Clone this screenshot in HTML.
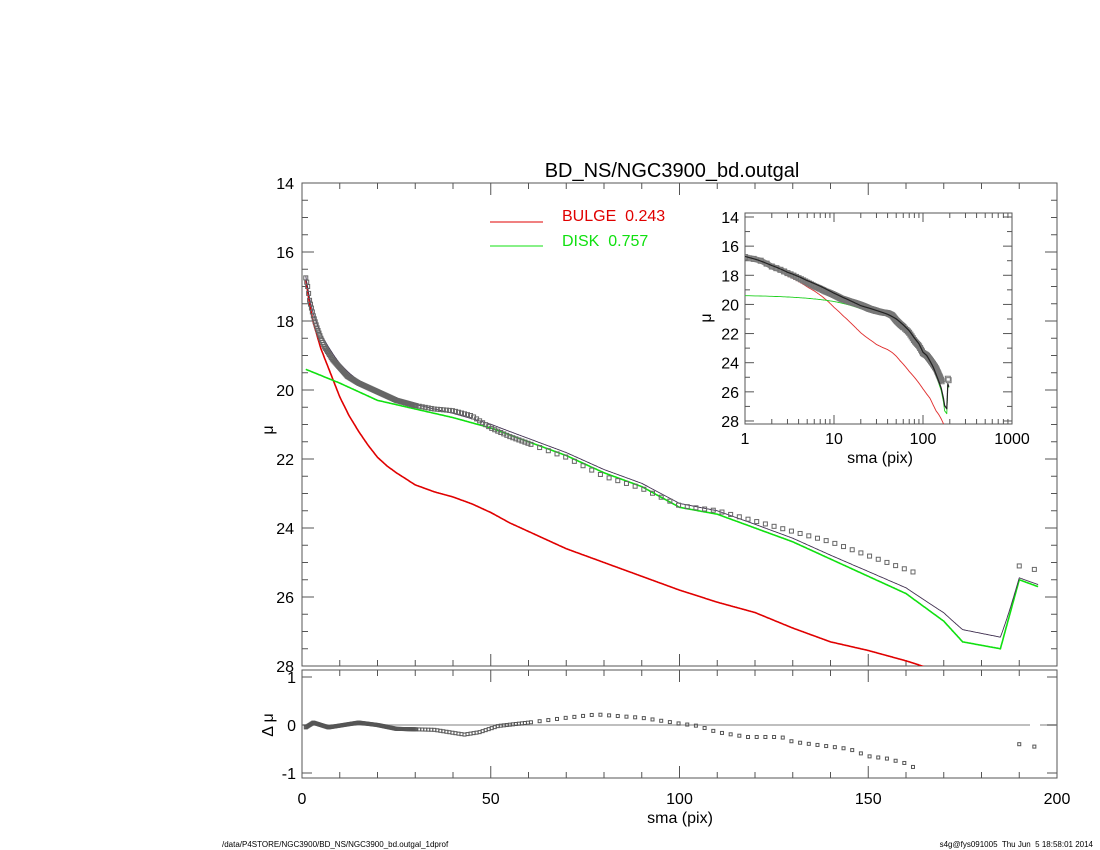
<!DOCTYPE html>
<html><head><meta charset="utf-8"><style>
body{margin:0;background:#fff}
svg{display:block;font-family:"Liberation Sans",sans-serif}
</style></head><body>
<svg id="s" width="1100" height="850" xmlns="http://www.w3.org/2000/svg"></svg>
<script>
const S=document.getElementById('s');let h='';
function interp(k,x){if(x<=k[0][0])return k[0][1];for(let i=1;i<k.length;i++){if(x<=k[i][0]){const a=k[i-1],b=k[i];return a[1]+(b[1]-a[1])*(x-a[0])/(b[0]-a[0]);}}return k[k.length-1][1];}
const D=[[1,16.75],[1.5,17.0],[2,17.4],[3,17.85],[4,18.2],[5,18.5],[6,18.75],[8,19.1],[10,19.35],[12,19.6],[15,19.8],[20,20.05],[25,20.3],[30,20.45],[35,20.55],[40,20.6],[45,20.75],[50,21.1],[55,21.35],[60,21.55],[70,21.95],[80,22.5],[90,22.85],[100,23.35],[110,23.5],[120,23.8],[130,24.1],[140,24.4],[150,24.8],[160,25.2],[170,25.6],[180,25.7],[190,25.1],[194,25.2]];
const G=[[1,19.4],[10,19.8],[20,20.3],[30,20.55],[40,20.8],[50,21.1],[60,21.5],[70,21.9],[80,22.4],[90,22.8],[100,23.4],[110,23.6],[120,24.0],[130,24.4],[140,24.9],[150,25.4],[160,25.9],[170,26.7],[175,27.3],[185,27.5],[190,25.5],[195,25.7]];
const B=[[1,16.8],[2,17.5],[3,18.05],[5,18.8],[7.5,19.5],[10,20.2],[12.5,20.75],[15,21.2],[17.5,21.6],[20,21.95],[22.5,22.2],[25,22.4],[30,22.75],[35,22.95],[40,23.1],[45,23.3],[50,23.55],[55,23.85],[60,24.1],[70,24.6],[80,25.0],[90,25.4],[100,25.8],[110,26.15],[120,26.45],[130,26.9],[140,27.3],[150,27.55],[160,27.85],[170,28.2],[185,28.6],[195,28.8]];
const R=[[1,-0.05],[3,0.05],[7,-0.05],[15,0.05],[20,0.0],[25,-0.08],[35,-0.1],[43,-0.2],[47,-0.15],[52,-0.02],[60,0.05],[70,0.15],[78,0.22],[90,0.15],[100,0.03],[105,-0.02],[110,-0.15],[118,-0.25],[127,-0.25],[130,-0.35],[140,-0.45],[145,-0.5],[150,-0.65],[155,-0.7],[160,-0.8],[165,-1.0],[190,-0.4],[194,-0.45]];
function M(r){const b=interp(B,r),d=interp(G,r);return -2.5*Math.log10(Math.pow(10,-0.4*b)+Math.pow(10,-0.4*d));}
let rs=[];let r=1;while(r<=30){rs.push(r);r+=0.25;}while(r<60){rs.push(r);r+=0.8;}while(r<=163){rs.push(r);r+=2.3;}rs.push(190,194);
const X=v=>302+v*3.775, Y=m=>183+(m-14)*34.5, YR=d=>725-d*48;
const LX=v=>745+Math.log10(v)*89, LY=m=>217+(m-14)*14.57;
function line(f,xf,yf,col,w,x0,x1,st){let p='';for(let v=x0;v<=x1;v+=(st||0.5)){const y=yf(f(v));p+=(p?'L':'M')+xf(v).toFixed(1)+','+y.toFixed(1);}return `<path d="${p}" fill="none" stroke="${col}" stroke-width="${w}" stroke-linejoin="round"/>`;}
h+=`<defs><clipPath id="c1"><rect x="302" y="183" width="755" height="483"/></clipPath><clipPath id="c2"><rect x="745" y="213" width="267" height="211"/></clipPath></defs>`;
h+=`<text x="672" y="177" font-size="20" text-anchor="middle">BD_NS/NGC3900_bd.outgal</text>`;
h+=`<rect x="302" y="183" width="755" height="483" fill="none" stroke="#555"/>`;
for(let m=14;m<=28;m+=0.5){const y=Y(m),L=(m%2==0)?12:6;h+=`<line x1="302" x2="${302+L}" y1="${y}" y2="${y}" stroke="#555"/><line x1="1057" x2="${1057-L}" y1="${y}" y2="${y}" stroke="#555"/>`;if(m%2==0)h+=`<text x="294" y="${y+6}" font-size="16" text-anchor="end">${m}</text>`;}
for(let v=0;v<=200;v+=10){const x=X(v),L=(v%50==0)?12:6;h+=`<line x1="${x}" x2="${x}" y1="183" y2="${183+L}" stroke="#555"/><line x1="${x}" x2="${x}" y1="666" y2="${666-L}" stroke="#555"/><line x1="${x}" x2="${x}" y1="670" y2="${670+L}" stroke="#555"/><line x1="${x}" x2="${x}" y1="778" y2="${778-L}" stroke="#555"/>`;}
h+=`<text x="268" y="435" font-size="16" transform="rotate(-90 268 430)" text-anchor="middle">μ</text>`;
h+=`<g clip-path="url(#c1)">`;
h+=line(r=>interp(B,r),X,Y,'#e00000',1.6,1,195,0.25);
h+=line(r=>interp(G,r),X,Y,'#10e010',1.6,1,195,0.25);
h+=line(M,X,Y,'#403050',0.9,1,195,0.25);
for(const v of rs){h+=`<rect x="${X(v)-2}" y="${Y(interp(D,v))-2}" width="4" height="4" fill="none" stroke="#666" stroke-width="1"/>`;}
h+=`</g>`;
h+=`<line x1="490" x2="543" y1="222" y2="222" stroke="#e00000"/><line x1="490" x2="543" y1="246" y2="246" stroke="#10e010"/>`;
h+=`<text x="562" y="221" font-size="16" fill="#e00000" style="white-space:pre">BULGE  0.243</text><text x="562" y="246" font-size="16" fill="#10e010" style="white-space:pre">DISK  0.757</text>`;
h+=`<rect x="302" y="670" width="755" height="108" fill="none" stroke="#555"/>`;
h+=`<line x1="302" x2="1030" y1="725" y2="725" stroke="#aaa" stroke-width="1.5"/><line x1="1040" x2="1057" y1="725" y2="725" stroke="#aaa" stroke-width="1.5"/>`;
[[1,677],[0,725],[-1,773]].forEach(([t,y])=>{h+=`<text x="296" y="${y+6}" font-size="16" text-anchor="end">${t}</text><line x1="302" x2="312" y1="${y}" y2="${y}" stroke="#555"/><line x1="1057" x2="1047" y1="${y}" y2="${y}" stroke="#555"/>`;});
h+=`<text x="268" y="730" font-size="16" transform="rotate(-90 268 725)" text-anchor="middle">Δ μ</text>`;
for(const v of rs){const d=interp(R,v);if(d<-1.05)continue;h+=`<rect x="${X(v)-1.5}" y="${YR(d)-1.5}" width="3" height="3" fill="none" stroke="#555" stroke-width="1"/>`;}
[0,50,100,150,200].forEach(v=>h+=`<text x="${X(v)}" y="804" font-size="16" text-anchor="middle">${v}</text>`);
h+=`<text x="680" y="823" font-size="16" text-anchor="middle">sma (pix)</text>`;
h+=`<text x="222" y="850" font-size="8" dy="-3">/data/P4STORE/NGC3900/BD_NS/NGC3900_bd.outgal_1dprof</text>`;
h+=`<text x="1093" y="847" font-size="8" text-anchor="end" style="white-space:pre">s4g@fys091005  Thu Jun  5 18:58:01 2014</text>`;
h+=`<rect x="745" y="213" width="267" height="211" fill="#fff" stroke="#555"/>`;
for(let m=14;m<=28;m+=1){const y=LY(m),L=(m%2==0)?9:5;h+=`<line x1="745" x2="${745+L}" y1="${y}" y2="${y}" stroke="#555"/><line x1="1012" x2="${1012-L}" y1="${y}" y2="${y}" stroke="#555"/>`;if(m%2==0)h+=`<text x="739" y="${y+6}" font-size="16" text-anchor="end">${m}</text>`;}
for(let dcd=0;dcd<3;dcd++)for(let k=1;k<=10;k++){const x=745+(dcd+Math.log10(k))*89,L=(k==1||k==10)?9:5;h+=`<line x1="${x}" x2="${x}" y1="213" y2="${213+L}" stroke="#555"/><line x1="${x}" x2="${x}" y1="424" y2="${424-L}" stroke="#555"/>`;}
[1,10,100,1000].forEach((v,i)=>h+=`<text x="${745+i*89}" y="444" font-size="16" text-anchor="middle">${v}</text>`);
h+=`<text x="880" y="463" font-size="16" text-anchor="middle">sma (pix)</text>`;
h+=`<text x="706" y="323" font-size="16" transform="rotate(-90 706 318)" text-anchor="middle">μ</text>`;
h+=`<g clip-path="url(#c2)">`;
h+=line(r=>interp(B,r),LX,LY,'#e03030',0.9,1,195,0.1);
h+=line(r=>interp(G,r),LX,LY,'#20d020',0.9,1,195,0.1);
let dp='';for(let v=1;v<=165;v*=1.01){dp+=(dp?'L':'M')+LX(v).toFixed(1)+','+LY(interp(D,v)).toFixed(1);}
h+=`<path d="${dp}" fill="none" stroke="#888" stroke-width="6" stroke-linejoin="round"/>`;
for(const v of rs){h+=`<rect x="${LX(v)-2.5}" y="${LY(interp(D,v))-2.5}" width="5" height="5" fill="none" stroke="#777" stroke-width="1"/>`;}
h+=line(M,LX,LY,'#222',1.2,1,195,0.1);
h+=`</g>`;
S.innerHTML=h;
</script>
</body></html>
